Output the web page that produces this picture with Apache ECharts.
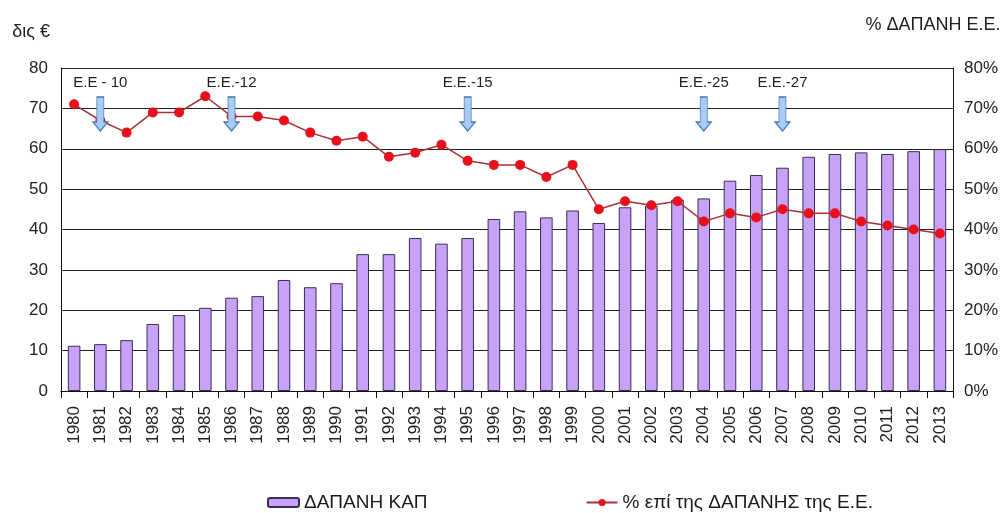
<!DOCTYPE html>
<html>
<head>
<meta charset="utf-8">
<script src="https://cdn.jsdelivr.net/npm/echarts@6/dist/echarts.min.js"></script>
<style>html,body{margin:0;padding:0;background:#fff;}#c{width:1008px;height:513px;}</style>
</head>
<body>
<div id="c"></div>
<script>
var years = ['1980','1981','1982','1983','1984','1985','1986','1987','1988','1989','1990','1991','1992','1993','1994','1995','1996','1997','1998','1999','2000','2001','2002','2003','2004','2005','2006','2007','2008','2009','2010','2011','2012','2013'];
var capSpending = [11.2,11.6,12.6,16.6,18.8,20.6,23.1,23.5,27.5,25.7,26.7,33.9,33.9,37.9,36.5,37.9,42.6,44.5,43.0,44.7,41.6,45.5,45.9,47.4,47.7,52.1,53.5,55.3,58.0,58.7,59.1,58.7,59.4,59.9];
var sharePct = [71,67,64,69,69,73,68,68,67,64,62,63,58,59,61,57,56,56,53,56,45,47,46,47,42,44,43,45,44,44,42,41,40,39];
var enlargeYears = ['1981','1986','1995','2004','2007'];
var enlargeLabels = ['E.E - 10','E.E.-12','E.E.-15','E.E.-25','E.E.-27'];
var leftTicks = [0,10,20,30,40,50,60,70,80];

var chart = echarts.init(document.getElementById('c'));
var font = 'Liberation Sans, Arial, sans-serif';
var arrowPath = 'path://M4,0 L11,0 L11,25 L15,25 L7.5,34 L0,25 L4,25 Z';

var markData = enlargeYears.map(function(y, i){
  return { name: enlargeLabels[i], coord: [y, 68.6] };
});

chart.setOption({
  animation: false,
  textStyle: { fontFamily: font },
  grid: { left: 61, right: 55, top: 68, bottom: 122, containLabel: false, outerBoundsMode: 'none' },
  legend: {
    left: 262, top: 488, itemGap: 158, itemWidth: 31, itemHeight: 9,
    textStyle: { fontSize: 19, color: '#1a1a1a', fontFamily: font },
    data: ['ΔΑΠΑΝΗ ΚΑΠ', '% επί της ΔΑΠΑΝΗΣ της Ε.Ε.']
  },
  xAxis: {
    type: 'category', data: years, boundaryGap: true,
    axisLine: { lineStyle: { color: '#111', width: 1 } },
    axisTick: { show: true, length: 7, lineStyle: { color: '#111' } },
    axisLabel: { rotate: 90, fontSize: 17, color: '#222', margin: 15, fontFamily: font }
  },
  yAxis: [{
    type: 'value', min: leftTicks[0], max: leftTicks[leftTicks.length-1], interval: 10,
    name: 'δις €', nameLocation: 'end', nameGap: 27,
    nameTextStyle: { fontSize: 18, color: '#222', align: 'right', padding: [0, 11, 0, 0], fontFamily: font },
    axisLine: { show: true, lineStyle: { color: '#111' } },
    axisTick: { show: false },
    axisLabel: { fontSize: 17, color: '#222', margin: 13, fontFamily: font },
    splitLine: { lineStyle: { color: '#222', width: 1 } }
  }, {
    type: 'value', min: 0, max: 80, interval: 10, position: 'right',
    name: '% ΔΑΠΑΝΗ Ε.Ε.', nameLocation: 'end', nameGap: 34,
    nameTextStyle: { fontSize: 18, color: '#222', align: 'center', padding: [0, 40, 0, 0], fontFamily: font },
    axisLine: { show: true, lineStyle: { color: '#111' } },
    axisTick: { show: false },
    axisLabel: { fontSize: 17, color: '#222', margin: 11, formatter: '{value}%', fontFamily: font },
    splitLine: { show: false }
  }],
  series: [{
    name: 'ΔΑΠΑΝΗ ΚΑΠ', type: 'bar', data: capSpending, barWidth: '48%',
    itemStyle: { color: '#c8a2f7', borderColor: '#3b2d58', borderWidth: 1 },
    z: 2
  }, {
    name: '% επί της ΔΑΠΑΝΗΣ της Ε.Ε.', type: 'line', yAxisIndex: 1, data: sharePct,
    symbol: 'circle', symbolSize: 10,
    lineStyle: { color: '#a8323a', width: 1.5 },
    itemStyle: { color: '#e8101a' },
    z: 3,
    markPoint: {
      z: 10,
      symbol: arrowPath, symbolSize: [15, 34], symbolKeepAspect: false,
      itemStyle: { color: '#a9cdf2', borderColor: '#4174b8', borderWidth: 1 },
      label: { show: true, position: 'top', distance: 6, formatter: '{b}', fontSize: 15, color: '#222', fontFamily: font },
      data: markData
    }
  }]
});
</script>
</body>
</html>
